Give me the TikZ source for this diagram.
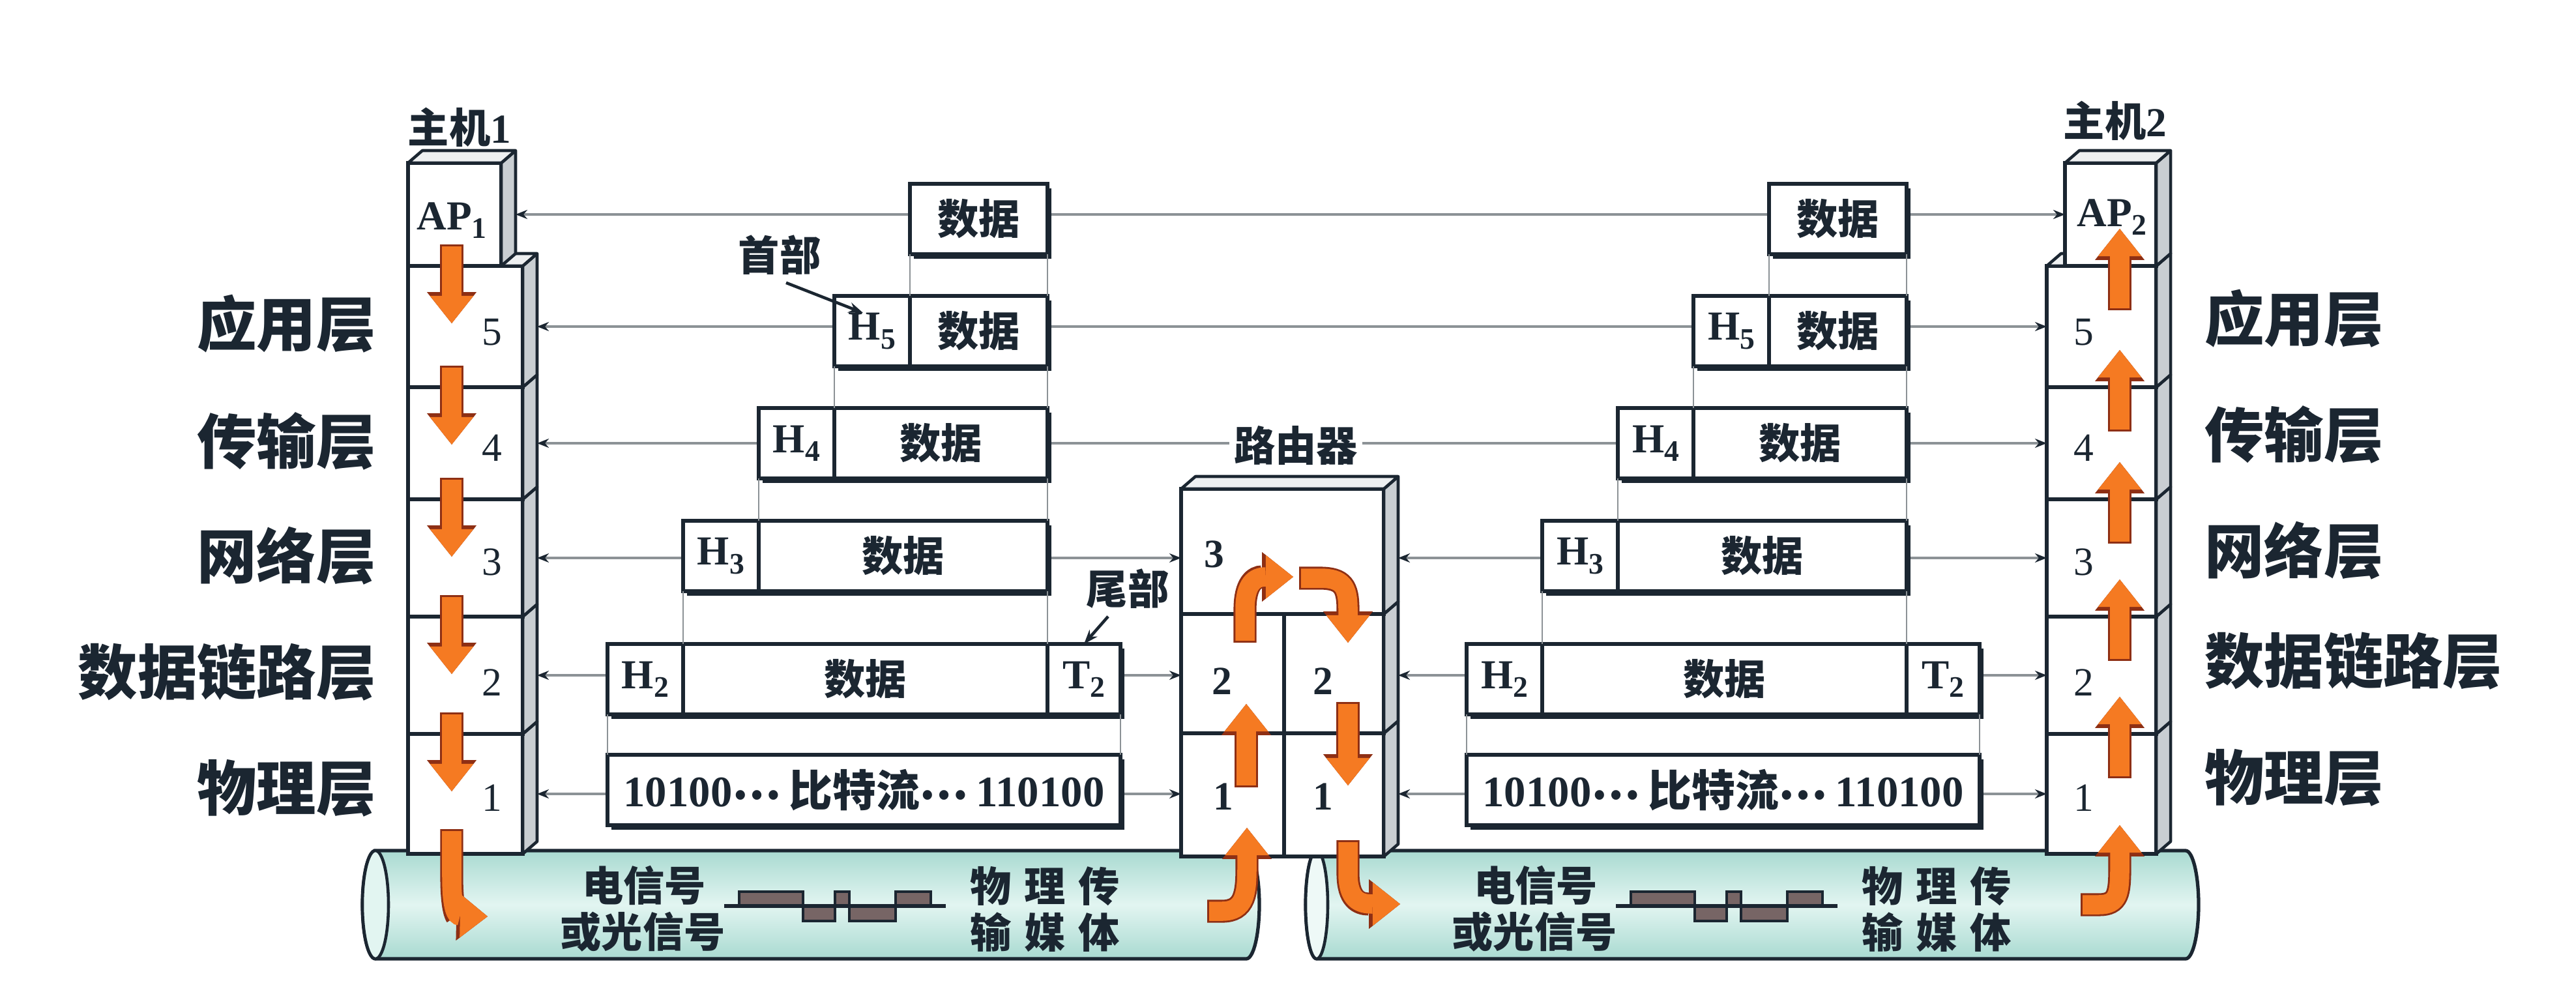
\documentclass[tikz,border=0pt]{standalone}
\usepackage{fontspec}
\usepackage{xcolor}
\usepackage{tikz}
\usetikzlibrary{arrows.meta,calc,shadows}
\setmainfont{Liberation Serif}
\newfontfamily\cjk{Noto Sans CJK SC}

\definecolor{ink}{HTML}{1B2631}
\definecolor{wire}{HTML}{8C9296}
\definecolor{flowfill}{HTML}{F57A22}
\definecolor{flowedge}{HTML}{8E2F14}
\definecolor{pipeedge}{HTML}{A9DAD1}
\definecolor{pipemid}{HTML}{E2F5F1}
\definecolor{sideface}{HTML}{C9CED2}
\definecolor{topface}{HTML}{EEF0F1}
\definecolor{wavefill}{HTML}{776565}

\tikzset{
  slab/.style={draw=ink, line width=1.5pt, fill=white, inner sep=0pt, outer sep=0pt},
  face/.style={draw=ink, line width=1.3pt, line join=round},
  cell/.style={draw=ink, line width=1.5pt, fill=white, minimum height=1.08cm, inner sep=0pt, outer sep=0pt, anchor=west, text=ink,
    font=\cjk\bfseries\fontsize{18}{18}\selectfont,
    drop shadow={shadow xshift=0.06cm, shadow yshift=-0.07cm, fill=ink, opacity=1}},
  hcell/.style={cell, font=\bfseries\fontsize{18}{18}\selectfont},
  conn/.style={draw=wire, line width=1pt, {Stealth[length=0.18cm,width=0.14cm,color=ink]}-{Stealth[length=0.18cm,width=0.14cm,color=ink]}},
  guide/.style={draw=wire, line width=0.8pt},
  pointer/.style={draw=ink, line width=1.3pt, -{Stealth[length=0.22cm,width=0.16cm]}},
  flow/.style={draw=flowfill, line width=8.4pt, -{Triangle[width=19pt,length=12pt,line width=0pt]},
    preaction={draw=flowedge, line width=10pt, shorten <=-0.8pt, -{Triangle[width=21.6pt,length=13.6pt,line width=0pt]}}},
  tube/.style={draw=ink, line width=1.5pt, top color=pipeedge, bottom color=pipeedge, middle color=pipemid},
  wavebar/.style={draw=ink, line width=1pt, fill=wavefill},
  layername/.style={text=ink, font=\cjk\bfseries\fontsize{26}{26}\selectfont},
  midtext/.style={text=ink, font=\cjk\bfseries\fontsize{18}{18}\selectfont},
  hosttitle/.style={text=ink, font=\bfseries\fontsize{18}{18}\selectfont},
  num/.style={text=ink, font=\fontsize{17.5}{17.5}\selectfont},
  rnum/.style={text=ink, font=\bfseries\fontsize{17.5}{17.5}\selectfont},
}

\newcommand{\sidefc}[1]{\draw[face,fill=sideface] (#1.north east) -- ++(0.22,0.19) -- ($(#1.south east)+(0.22,0.19)$) -- (#1.south east) -- cycle;}
\newcommand{\topfc}[1]{\draw[face,fill=topface] (#1.north west) -- ++(0.22,0.19) -- ($(#1.north east)+(0.22,0.19)$) -- (#1.north east) -- cycle;}
\newcommand{\hsub}[2]{#1\raisebox{-0.45ex}{\fontsize{13}{13}\selectfont #2}}
\newcommand{\middots}{\raisebox{0.3ex}{…}}

\begin{document}
\begin{tikzpicture}
\fill[white] (0,0) rectangle (39.52,-15.24);
\useasboundingbox (0,0) rectangle (39.52,-15.24);

% transmission media
\shadedraw[tube] (5.76,-13.05) -- (19.12,-13.05) arc[start angle=90,end angle=-90,x radius=0.2,y radius=0.83]
  -- (5.76,-14.71) arc[start angle=270,end angle=90,x radius=0.2,y radius=0.83] -- cycle;
\draw[face,fill=pipemid] (5.76,-13.88) ellipse[x radius=0.2,y radius=0.83];
\shadedraw[tube] (20.20,-13.05) -- (33.53,-13.05) arc[start angle=90,end angle=-90,x radius=0.2,y radius=0.83]
  -- (20.20,-14.71) arc[start angle=270,end angle=90,x radius=0.17,y radius=0.83] -- cycle;
\draw[face,fill=pipemid!60!white] (20.20,-13.88) ellipse[x radius=0.17,y radius=0.83];

\foreach \s/\dx in {l/0,r/13.68}{
  \begin{scope}[xshift=\dx cm]
    \node[midtext] (sig1\s) at (9.88,-13.58) {电信号};
    \node[midtext] (sig2\s) at (9.86,-14.30) {或光信号};
    \node[midtext] (med1\s) at (16.03,-13.60) {物\hspace{0.2cm}理\hspace{0.2cm}传};
    \node[midtext] (med2\s) at (16.03,-14.30) {输\hspace{0.2cm}媒\hspace{0.2cm}体};
    % square wave
    \draw[wavebar] (11.34,-13.90) rectangle (12.32,-13.68);
    \draw[wavebar] (12.32,-13.90) rectangle (12.81,-14.13);
    \draw[wavebar] (12.81,-13.90) rectangle (13.03,-13.68);
    \draw[wavebar] (13.03,-13.90) rectangle (13.74,-14.13);
    \draw[wavebar] (13.74,-13.90) rectangle (14.28,-13.68);
    \draw[ink, line width=1.5pt] (11.11,-13.90) -- (14.51,-13.90);
  \end{scope}
}

% host stacks
\foreach \hh/\xc/\ww in {1/7.14/1.76, 2/32.24/1.68}{
  \foreach \n/\yc/\hgt in {1/12.18/1.84, 2/10.36/1.80, 3/8.56/1.80, 4/6.80/1.72, 5/5.01/1.86}{
    \node[slab, minimum width=\ww cm, minimum height=\hgt cm] (h\hh l\n) at (\xc,-\yc) {};
    \sidefc{h\hh l\n}
  }
  \topfc{h\hh l5}
}
\node[slab, minimum width=1.43cm, minimum height=1.58cm] (h1ap) at (6.975,-3.29) {};
\sidefc{h1ap} \topfc{h1ap}
\node[slab, minimum width=1.40cm, minimum height=1.58cm] (h2ap) at (32.38,-3.29) {};
\sidefc{h2ap} \topfc{h2ap}

\foreach \n/\y in {5/5.10, 4/6.87, 3/8.62, 2/10.47, 1/12.24}{
  \node[num] (h1n\n) at (7.55,-\y) {\n};
  \node[num] (h2n\n) at (31.97,-\y) {\n};
}
\node[hosttitle] (ap1txt) at (6.93,-3.38) {\hsub{AP}{1}};
\node[hosttitle] (ap2txt) at (32.40,-3.33) {\hsub{AP}{2}};
\node[hosttitle] (host1) at (7.05,-1.95) {{\cjk 主机}1};
\node[hosttitle] (host2) at (32.45,-1.85) {{\cjk 主机}2};

% router
\node[slab, minimum width=1.58cm, minimum height=1.89cm] (r1l) at (18.91,-12.195) {};
\node[slab, minimum width=1.53cm, minimum height=1.89cm] (r1r) at (20.465,-12.195) {};
\sidefc{r1r}
\node[slab, minimum width=1.58cm, minimum height=1.83cm] (r2l) at (18.91,-10.335) {};
\node[slab, minimum width=1.53cm, minimum height=1.83cm] (r2r) at (20.465,-10.335) {};
\sidefc{r2r}
\node[slab, minimum width=3.11cm, minimum height=1.92cm] (r3) at (19.675,-8.46) {};
\sidefc{r3} \topfc{r3}
\node[rnum] (rn3) at (18.63,-8.50) {3};
\node[rnum] (rn2l) at (18.75,-10.45) {2};
\node[rnum] (rn2r) at (20.30,-10.45) {2};
\node[rnum] (rn1l) at (18.77,-12.22) {1};
\node[rnum] (rn1r) at (20.30,-12.22) {1};

% peer connections
\draw[conn] ([xshift=0.22cm]h1ap.east) -- (h2ap.west);
\draw[conn] ([xshift=0.22cm]h1l5.east) -- (h2l5.west);
\draw[conn] ([xshift=0.22cm]h1l4.east) -- (h2l4.west);
\draw[conn] ([xshift=0.22cm]h1l3.east) -- (h1l3.east -| r3.west);
\draw[conn] ([xshift=0.22cm]r3.east |- h2l3.west) -- (h2l3.west);
\draw[conn] ([xshift=0.22cm]h1l2.east) -- (h1l2.east -| r2l.west);
\draw[conn] ([xshift=0.22cm]r2r.east |- h2l2.west) -- (h2l2.west);
\draw[conn] ([xshift=0.22cm]h1l1.east) -- (h1l1.east -| r1l.west);
\draw[conn] ([xshift=0.22cm]r1r.east |- h2l1.west) -- (h2l1.west);
\node[midtext, fill=white, inner sep=2pt] (rtitle) at (19.88,-6.83) {路由器};

% data units
\foreach \s/\dx in {l/0,r/13.18}{
  \begin{scope}[xshift=\dx cm]
    \node[cell, minimum width=2.11cm] (f\s0) at (13.96,-3.36) {数据};
    \node[hcell, minimum width=1.16cm] (f\s5h) at (12.80,-5.08) {\hsub{H}{5}};
    \node[cell, minimum width=2.11cm] (f\s5d) at (13.96,-5.08) {数据};
    \node[hcell, minimum width=1.16cm] (f\s4h) at (11.64,-6.80) {\hsub{H}{4}};
    \node[cell, minimum width=3.27cm] (f\s4d) at (12.80,-6.80) {数据};
    \node[hcell, minimum width=1.16cm] (f\s3h) at (10.48,-8.53) {\hsub{H}{3}};
    \node[cell, minimum width=4.43cm] (f\s3d) at (11.64,-8.53) {数据};
    \node[hcell, minimum width=1.16cm] (f\s2h) at (9.32,-10.42) {\hsub{H}{2}};
    \node[cell, minimum width=5.59cm] (f\s2d) at (10.48,-10.42) {数据};
    \node[hcell, minimum width=1.12cm] (f\s2t) at (16.07,-10.42) {\hsub{T}{2}};
    \node[cell, minimum width=7.87cm, font=\cjk\bfseries\fontsize{19}{19}\selectfont] (f\s1) at (9.32,-12.12)
      {{\rmfamily 10100}\middots\hspace{0.12cm}比特流\middots\hspace{0.12cm}{\rmfamily 110100}};
    \draw[guide] (f\s0.south west) -- (f\s0.south west |- f\s5d.north);
    \draw[guide] (f\s0.south east) -- (f\s0.south east |- f\s5d.north);
    \draw[guide] (f\s5h.south west) -- (f\s5h.south west |- f\s4d.north);
    \draw[guide] (f\s5d.south east) -- (f\s5d.south east |- f\s4d.north);
    \draw[guide] (f\s4h.south west) -- (f\s4h.south west |- f\s3d.north);
    \draw[guide] (f\s4d.south east) -- (f\s4d.south east |- f\s3d.north);
    \draw[guide] (f\s3h.south west) -- (f\s3h.south west |- f\s2d.north);
    \draw[guide] (f\s3d.south east) -- (f\s3d.south east |- f\s2d.north);
    \draw[guide] (f\s2h.south west) -- (f\s2h.south west |- f\s1.north);
    \draw[guide] (f\s2t.south east) -- (f\s2t.south east |- f\s1.north);
  \end{scope}
}
\node[midtext] (hdrlab) at (11.96,-3.91) {首部};
\draw[pointer] ([xshift=0.1cm]hdrlab.south) -- ($(fl5h.north west)+(0.44,-0.26)$);
\node[midtext] (tlrlab) at (17.30,-9.03) {尾部};
\draw[pointer] ([xshift=-0.3cm]tlrlab.south) -- (fl2t.north);

% layer names
\foreach \n/\txt/\yl/\yr in {5/应用层/4.97/4.89, 4/传输层/6.77/6.67, 3/网络层/8.53/8.45, 2/数据链路层/10.31/10.14, 1/物理层/12.09/11.93}{
  \node[layername, anchor=east] (lab\n l) at (5.89,-\yl) {\txt};
  \node[layername, anchor=west] (lab\n r) at (33.70,-\yr) {\txt};
}

% data flow
\foreach \bb in {4.08, 5.94, 7.66, 9.46, 11.26}{
  \draw[flow] (6.93,-\bb+0.30) -- (6.93,-\bb-0.88);
  \draw[flow] (32.52,-\bb-0.65) -- (32.52,-\bb+0.57);
}
\draw[flow] (6.93,-12.75) -- (6.93,-13.45) .. controls (6.93,-13.95) and (7.00,-14.05) .. (7.48,-14.06);
\draw[flow] (18.55,-13.98) -- (18.75,-13.98) .. controls (19.10,-13.98) and (19.13,-13.70) .. (19.13,-13.30) -- (19.13,-12.70);
\draw[flow] (19.12,-12.05) -- (19.12,-10.80);
\draw[flow] (19.10,-9.83) -- (19.10,-9.35) .. controls (19.10,-8.95) and (19.25,-8.85) .. (19.84,-8.85);
\draw[flow] (19.96,-8.87) -- (20.25,-8.87) .. controls (20.60,-8.87) and (20.68,-9.00) .. (20.68,-9.35) -- (20.68,-9.86);
\draw[flow] (20.68,-10.80) -- (20.68,-12.05);
\draw[flow] (20.68,-12.92) -- (20.68,-13.40) .. controls (20.68,-13.80) and (20.85,-13.87) .. (21.48,-13.87);
\draw[flow] (31.95,-13.88) -- (32.20,-13.88) .. controls (32.50,-13.88) and (32.52,-13.70) .. (32.52,-13.30) -- (32.52,-12.66);
\end{tikzpicture}
\end{document}
